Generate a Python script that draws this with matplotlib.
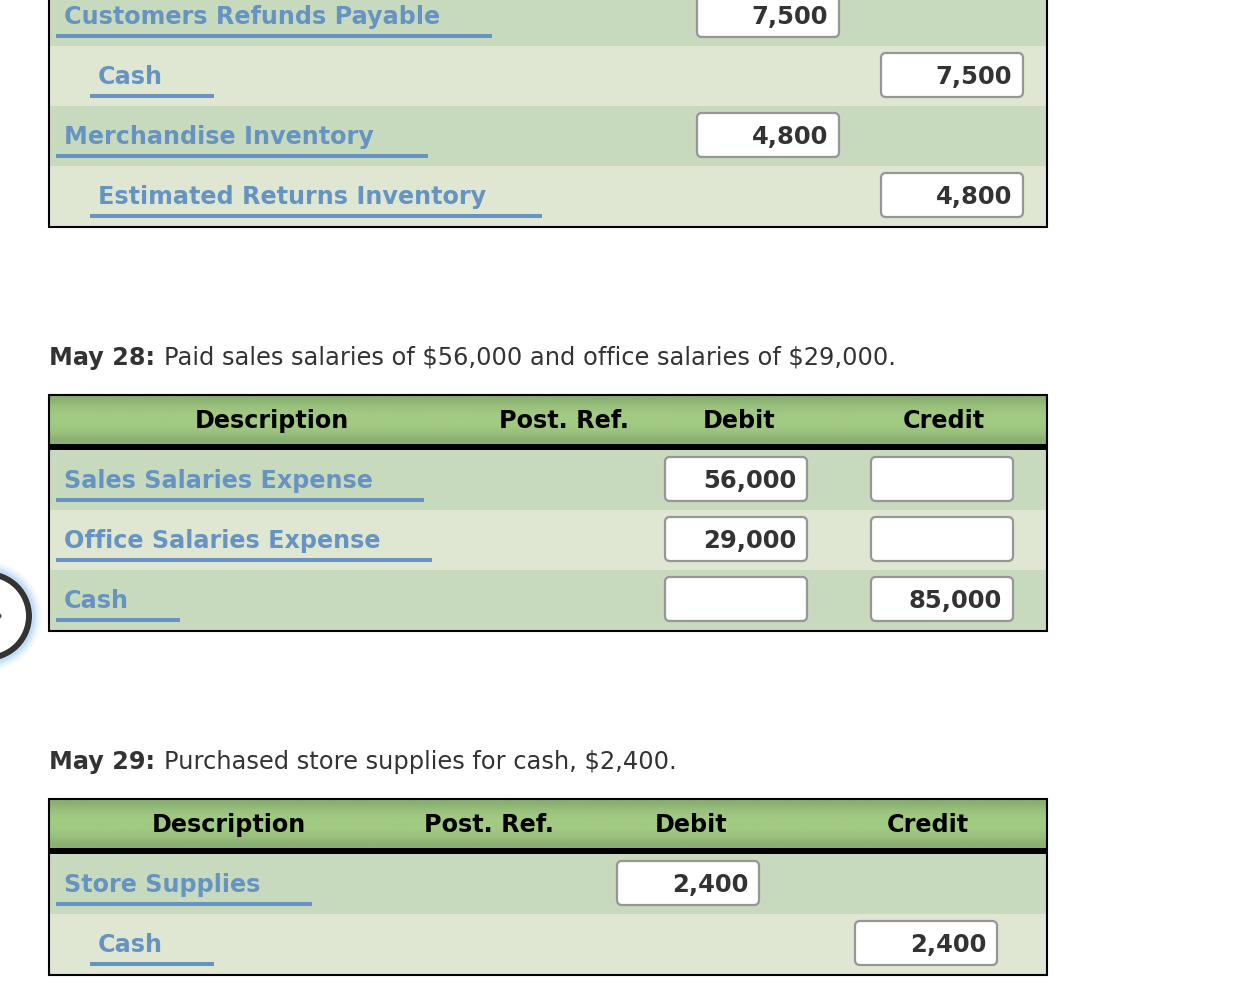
import numpy as np
import matplotlib
matplotlib.use("Agg")
import matplotlib.pyplot as plt
from matplotlib.patches import Circle, FancyBboxPatch, Rectangle

# journal entries, one list per table column
t1_accounts = ["Customers Refunds Payable", "Cash", "Merchandise Inventory", "Estimated Returns Inventory"]
t1_debit = ["7,500", None, "4,800", None]
t1_credit = [None, "7,500", None, "4,800"]
t1_indent = [0, 1, 0, 1]
t1_line_w = [436, 124, 372, 452]

t2_accounts = ["Sales Salaries Expense", "Office Salaries Expense", "Cash"]
t2_debit = ["56,000", "29,000", ""]
t2_credit = ["", "", "85,000"]
t2_indent = [0, 0, 0]
t2_line_w = [368, 376, 124]

t3_accounts = ["Store Supplies", "Cash"]
t3_debit = ["2,400", None]
t3_credit = [None, "2,400"]
t3_indent = [0, 1]
t3_line_w = [256, 124]

headers = ["Description", "Post. Ref.", "Debit", "Credit"]
caption_28 = ("May 28:", "Paid sales salaries of $56,000 and office salaries of $29,000.")
caption_29 = ("May 29:", "Purchased store supplies for cash, $2,400.")

DARK_ROW = "#c8dabe"
LIGHT_ROW = "#dfe7d2"
BLUE = "#6593c2"
TEXT = "#333333"
LEFT, RIGHT = 49, 1047
FS_BOLD = 17.2
FS_NUM = 17.5
FS_REG = 17.4

fig = plt.figure(figsize=(12.46, 9.9), dpi=100)
ax = fig.add_axes([0, 0, 1, 1])
ax.set_xlim(0, 1246)
ax.set_ylim(990, 0)
ax.axis("off")
plt.rcParams["font.family"] = ["DejaVu Sans"]


def draw_input(x, yc, value):
    box = FancyBboxPatch((x + 4, yc - 18), 134, 36, boxstyle="round,pad=4,rounding_size=5",
                         fc="white", ec="#969696", lw=1.6, zorder=3)
    ax.add_patch(box)
    if value:
        ax.text(x + 131, yc + 9, value, ha="right", va="baseline", fontsize=FS_NUM,
                fontweight="bold", color=TEXT, zorder=4)


def draw_rows(top, accounts, debit, credit, indent, line_w, debit_x, credit_x):
    for i, name in enumerate(accounts):
        y0 = top + i * 60
        ax.add_patch(Rectangle((LEFT, y0), RIGHT - LEFT, 60,
                               fc=DARK_ROW if i % 2 == 0 else LIGHT_ROW, ec="none", zorder=1))
        line_x = 56 + 34 * indent[i]
        ax.text(line_x + 8, y0 + 38, name, ha="left", va="baseline", fontsize=FS_BOLD,
                fontweight="bold", color=BLUE, zorder=4)
        ax.add_patch(Rectangle((line_x, y0 + 48), line_w[i], 4, fc=BLUE, ec="none", zorder=2))
        if debit[i] is not None:
            draw_input(debit_x, y0 + 29, debit[i])
        if credit[i] is not None:
            draw_input(credit_x, y0 + 29, credit[i])


def draw_header(top, centers):
    grad = np.array([[0.0], [0.7], [1.0], [1.0], [0.7], [0.0]])
    c0, c1 = np.array([0x8a, 0xb0, 0x72]) / 255, np.array([0xa2, 0xca, 0x82]) / 255
    img = c0 + grad[..., None] * (c1 - c0)
    ax.imshow(img, extent=(LEFT, RIGHT, top + 49, top), aspect="auto",
              interpolation="bilinear", zorder=1)
    ax.set_xlim(0, 1246)
    ax.set_ylim(990, 0)
    ax.add_patch(Rectangle((LEFT, top + 49), RIGHT - LEFT, 6, fc="black", ec="none", zorder=2))
    for label, cx in zip(headers, centers):
        ax.text(cx, top + 33, label, ha="center", va="baseline", fontsize=FS_BOLD,
                fontweight="bold", color="black", zorder=4)


def draw_frame(top, bottom):
    ax.add_patch(Rectangle((LEFT, top), RIGHT - LEFT, bottom - top, fc="none",
                           ec="black", lw=1.5, zorder=5))


def draw_caption(y, caption):
    t = ax.text(LEFT, y, caption[0], ha="left", va="baseline", fontsize=FS_BOLD,
                fontweight="bold", color=TEXT)
    fig.canvas.draw()
    end = t.get_window_extent().x1
    ax.text(end + 9, y, caption[1], ha="left", va="baseline", fontsize=FS_REG,
            color=TEXT, parse_math=False)


# top table runs off the page
draw_rows(-14, t1_accounts, t1_debit, t1_credit, t1_indent, t1_line_w, 697, 881)
draw_frame(-14, 227)

draw_caption(365, caption_28)
draw_header(395, [272, 564, 739, 944])
draw_rows(450, t2_accounts, t2_debit, t2_credit, t2_indent, t2_line_w, 665, 871)
draw_frame(395, 631)

draw_caption(769, caption_29)
draw_header(799, [229, 489, 691, 928])
draw_rows(854, t3_accounts, t3_debit, t3_credit, t3_indent, t3_line_w, 617, 855)
draw_frame(799, 975)

# round widget cut off at the left edge
glow_r = [54, 53, 52, 51, 50, 49, 48, 47, 46]
glow_a = [0.03, 0.05, 0.08, 0.11, 0.15, 0.2, 0.26, 0.33, 0.42]
for r, a in zip(glow_r, glow_a):
    ax.add_patch(Circle((-13, 616), r, fc="none", ec="#7fbdf5", lw=1.2, alpha=a, zorder=1))
ax.add_patch(Circle((-13, 616), 42, fc="white", ec="#333333", lw=4.3, zorder=2))
ax.add_patch(Circle((-1, 616), 2.5, fc="#444444", ec="none", zorder=3))

fig.savefig("out.png", dpi=100)
